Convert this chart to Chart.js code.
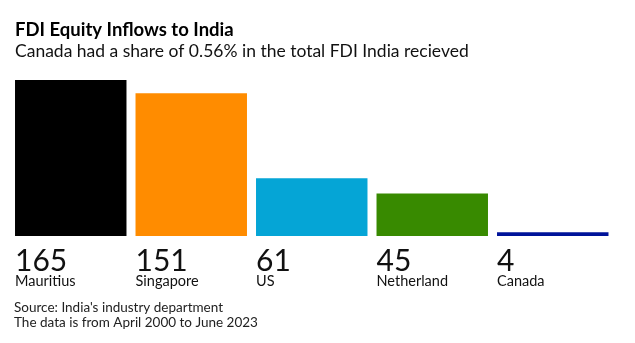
<!DOCTYPE html>
<html lang="en">
<head>
  <meta charset="UTF-8" />
  <title>FDI Equity Inflows to India</title>
  <script src="https://cdn.jsdelivr.net/npm/chart.js"></script>
  <style>
    html, body { margin: 0; padding: 0; background: #fff; }
    .wrap { position: relative; width: 635px; height: 343px; }
  </style>
</head>
<body>
  <div class="wrap">
    <canvas id="fdiChart" width="635" height="343"></canvas>
  </div>

  <script>
    // FDI equity inflows, April 2000 - June 2023
    const countries = ['Mauritius', 'Singapore', 'US', 'Netherland', 'Canada'];
    const inflows = [165, 151, 61, 45, 4];
    const barColors = ['#000000', '#ff8c00', '#05a5d6', '#388a00', '#00139a'];

    const titleText = 'FDI Equity Inflows to India';
    const subtitleText = 'Canada had a share of 0.56% in the total FDI India recieved';
    const sourceLines = [
      "Source: India's industry department",
      'The data is from April 2000 to June 2023'
    ];

    const textFont = "Lato, 'Noto Sans', sans-serif";

    // headline, value + name under each bar, source note
    const labelsPlugin = {
      id: 'fdiLabels',
      afterDraw(chart) {
        const ctx = chart.ctx;
        ctx.save();
        ctx.fillStyle = '#000';
        ctx.textAlign = 'left';
        ctx.textBaseline = 'alphabetic';

        ctx.font = 'bold 18.5px ' + textFont;
        ctx.fillText(titleText, 15, 36);
        ctx.font = '17.5px ' + textFont;
        ctx.fillStyle = '#111';
        ctx.fillText(subtitleText, 15, 57);

        const bars = chart.getDatasetMeta(0).data;
        bars.forEach((bar, i) => {
          const left = bar.x - bar.width / 2;
          ctx.fillStyle = '#111';
          ctx.font = '30px ' + textFont;
          ctx.fillText(String(inflows[i]), left, 271);
          ctx.font = '14.5px ' + textFont;
          ctx.fillText(countries[i], left, 286);
        });

        ctx.font = '13.5px ' + textFont;
        ctx.fillStyle = '#222';
        ctx.fillText(sourceLines[0], 14, 312);
        ctx.fillText(sourceLines[1], 14, 327);
        ctx.restore();
      }
    };

    new Chart(document.getElementById('fdiChart'), {
      type: 'bar',
      data: {
        labels: countries,
        datasets: [{
          data: inflows,
          backgroundColor: barColors,
          borderWidth: 0,
          categoryPercentage: 1,
          barPercentage: 0.925
        }]
      },
      options: {
        responsive: false,
        animation: false,
        layout: { padding: { left: 10.5, right: 22, top: 80, bottom: 107 } },
        plugins: {
          legend: { display: false },
          tooltip: { enabled: false }
        },
        scales: {
          x: { display: false },
          y: { display: false, min: 0, max: 165 }
        }
      },
      plugins: [labelsPlugin]
    });
  </script>
</body>
</html>
